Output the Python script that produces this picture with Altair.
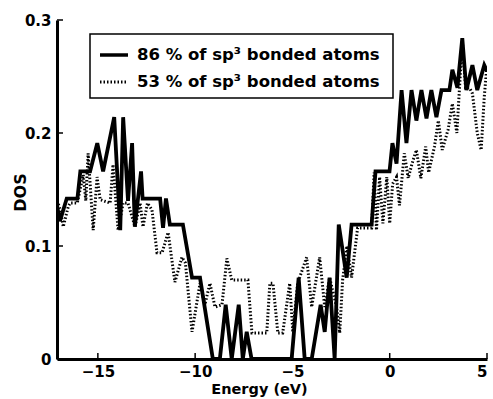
import altair as alt
import pandas as pd

# ---- data ----
x86 = [-17.1, -16.95, -16.6, -16.05, -15.9, -15.4, -15.03, -14.73, -14.16, -13.85, -13.7, -13.45,
       -13.24, -13.1, -12.78, -12.7, -11.8, -11.65, -11.5, -11.3, -10.63, -10.16, -9.75, -9.09,
       -8.73, -8.43, -8.12, -7.76, -7.55, -7.35, -7.1, -5.04, -4.68, -4.37, -4.01, -3.55, -3.34,
       -3.09, -2.83, -2.62, -2.21, -1.96, -0.93, -0.73, -0.01, 0.14, 0.35, 0.61, 0.86, 1.12, 1.37,
       1.63, 1.89, 2.14, 2.4, 2.66, 3.07, 3.22, 3.48, 3.73, 3.94, 4.25, 4.5, 4.86, 5.0]
y86 = [0.136, 0.122, 0.142, 0.142, 0.166, 0.166, 0.191, 0.166, 0.214, 0.114, 0.214, 0.14,
       0.191, 0.117, 0.166, 0.142, 0.142, 0.116, 0.142, 0.119, 0.119, 0.072, 0.072, 0.0,
       0.0, 0.048, 0.0, 0.048, 0.0, 0.024, 0.0, 0.0, 0.072, 0.0, 0.0, 0.048, 0.024,
       0.072, 0.0, 0.119, 0.072, 0.119, 0.119, 0.166, 0.166, 0.191, 0.173, 0.238, 0.191, 0.238, 0.211,
       0.238, 0.213, 0.238, 0.214, 0.238, 0.238, 0.256, 0.24, 0.284, 0.238, 0.26, 0.238, 0.26, 0.255]

x53 = [-17.09, -16.93, -16.78, -16.52, -16.42, -16.06, -15.75, -15.62, -15.5, -15.24, -15.04, -14.88,
       -14.37, -14.22, -13.96, -13.7, -13.45, -13.09, -12.83, -12.68, -12.45, -12.22, -11.96, -11.7,
       -11.39, -11.04, -10.68, -10.5, -10.16, -9.75, -9.5, -9.24, -8.98, -8.62, -8.37, -8.12, -7.29,
       -7.08, -6.32, -6.16, -6.0, -5.75, -5.5, -5.14, -4.98, -4.73, -4.27, -4.01, -3.6, -3.34, -3.09,
       -2.73, -2.57, -2.42, -2.2, -1.96, -1.65, -0.93, -0.8, -0.68, -0.52, -0.35, -0.15, 0.0, 0.15,
       0.35, 0.5, 0.75, 0.95, 1.15, 1.37, 1.6, 1.85, 2.0, 2.3, 2.5, 2.7, 3.0, 3.22, 3.45, 3.73,
       3.9, 4.1, 4.25, 4.5, 4.7, 4.86, 5.0]
y53 = [0.14, 0.132, 0.117, 0.135, 0.138, 0.138, 0.163, 0.14, 0.182, 0.114, 0.161, 0.141,
       0.138, 0.172, 0.114, 0.138, 0.138, 0.117, 0.138, 0.117, 0.138, 0.132, 0.094, 0.094,
       0.112, 0.068, 0.09, 0.085, 0.024, 0.067, 0.048, 0.067, 0.046, 0.048, 0.089, 0.07, 0.07,
       0.023, 0.023, 0.067, 0.067, 0.023, 0.023, 0.067, 0.024, 0.067, 0.09, 0.046, 0.09, 0.046, 0.072,
       0.046, 0.023, 0.07, 0.1, 0.072, 0.116, 0.116, 0.165, 0.114, 0.161, 0.12, 0.161, 0.12, 0.155,
       0.161, 0.136, 0.182, 0.16, 0.173, 0.185, 0.16, 0.188, 0.165, 0.188, 0.211, 0.185, 0.203, 0.226, 0.2, 0.282,
       0.24, 0.24, 0.235, 0.2, 0.185, 0.232, 0.26]

x_ticks = [-15, -10, -5, 0, 5]
y_ticks = [0, 0.1, 0.2, 0.3]
legend_labels = ["86 % of sp³ bonded atoms", "53 % of sp³ bonded atoms"]
x_title = "Energy (eV)"
y_title = "DOS"

# ---- layout ----
W, H = 430, 339
FONT = "DejaVu Sans"

xs = alt.Scale(domain=[-17.1, 5], nice=False, zero=False)
ys = alt.Scale(domain=[0, 0.3], nice=False, zero=True)

xenc = alt.X("E:Q", scale=xs,
             axis=alt.Axis(values=x_ticks, format="d", title=x_title, labelPadding=5,
                           titleX=202, titleY=30, titleBaseline="middle", titleFontSize=14.5))
yenc = alt.Y("DOS:Q", scale=ys,
             axis=alt.Axis(values=y_ticks, format="~g", title=y_title, labelPadding=6,
                           titleX=-37, titleY=172, titleAngle=-90, titleBaseline="middle",
                           titleFontSize=16))

df86 = pd.DataFrame({"E": x86, "DOS": y86})
df53 = pd.DataFrame({"E": x53, "DOS": y53})

line53 = alt.Chart(df53).mark_line(color="black", strokeWidth=3, strokeDash=[1.5, 2],
                                   strokeCap="butt", clip=True).encode(x=xenc, y=yenc)
line86 = alt.Chart(df86).mark_line(color="black", strokeWidth=3.8, clip=True,
                                   strokeJoin="miter").encode(x=xenc, y=yenc)

xt = alt.Chart(pd.DataFrame({"E": x_ticks})).mark_rule(color="black", strokeWidth=1.5).encode(
    x=xenc, y=alt.value(H), y2=alt.value(H - 6))
yt = alt.Chart(pd.DataFrame({"DOS": y_ticks})).mark_rule(color="black", strokeWidth=1.5).encode(
    y=yenc, x=alt.value(0), x2=alt.value(6))

one = pd.DataFrame({"a": [0]})
box = alt.Chart(one).mark_rect(fill="white", stroke="black", strokeWidth=1.5).encode(
    x=alt.value(33), x2=alt.value(336), y=alt.value(14), y2=alt.value(78))
s1 = alt.Chart(one).mark_rule(color="black", strokeWidth=3.5).encode(
    x=alt.value(43), x2=alt.value(71), y=alt.value(35))
s2 = alt.Chart(one).mark_rule(color="black", strokeWidth=3, strokeDash=[1.5, 2]).encode(
    x=alt.value(43), x2=alt.value(71), y=alt.value(62))
t1 = alt.Chart(one).mark_text(text=legend_labels[0], font=FONT, fontWeight="bold", fontSize=16.5,
                              align="left", baseline="middle", color="black").encode(
    x=alt.value(80), y=alt.value(35))
t2 = alt.Chart(one).mark_text(text=legend_labels[1], font=FONT, fontWeight="bold", fontSize=16.5,
                              align="left", baseline="middle", color="black").encode(
    x=alt.value(80), y=alt.value(62))

chart = alt.layer(line53, line86, xt, yt, box, s1, s2, t1, t2).properties(
    width=W, height=H,
    autosize=alt.AutoSizeParams(type="none"),
    padding={"left": 57, "top": 20, "right": 6, "bottom": 40},
).configure_view(stroke=None).configure_axis(
    grid=False, ticks=False, domainColor="black", domainWidth=3,
    labelFont=FONT, labelFontWeight="bold", labelFontSize=15, labelColor="black",
    titleFont=FONT, titleFontWeight="bold", titleFontSize=15, titleColor="black",
)

chart.save("out.html", embed_options={"renderer": "svg", "actions": False})
